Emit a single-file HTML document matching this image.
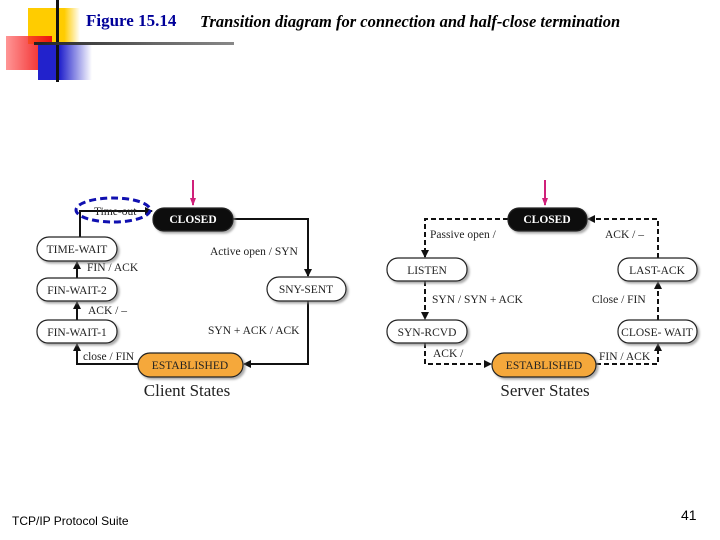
<!DOCTYPE html>
<html><head><style>
body{margin:0;width:720px;height:540px;background:#fff;position:relative;overflow:hidden;font-family:"Liberation Serif",serif}
.a{position:absolute}
</style></head><body>
<div class="a" style="left:28px;top:8px;width:52px;height:36px;background:linear-gradient(90deg,#ffcc00,#ffcc00 70%,rgba(255,220,80,0))"></div>
<div class="a" style="left:6px;top:36px;width:46px;height:34px;background:linear-gradient(90deg,rgba(255,80,80,0.6),#ee1111)"></div>
<div class="a" style="left:38px;top:44px;width:54px;height:36px;background:linear-gradient(90deg,#2222cc 40%,rgba(40,40,220,0))"></div>
<div class="a" style="left:56px;top:0;width:3px;height:82px;background:#111"></div>
<div class="a" style="left:34px;top:42px;width:200px;height:3px;background:linear-gradient(90deg,#222,#666 60%,#888)"></div>
<div class="a" style="left:86px;top:11px;font-size:17px;font-weight:bold;color:#000099">Figure 15.14</div>
<div class="a" style="left:200px;top:12px;font-size:16.5px;font-weight:bold;font-style:italic;color:#000">Transition diagram for connection and half-close termination</div>
<svg class="a" style="left:0;top:0" width="720" height="540" font-family="Liberation Serif" font-size="11.5">
<defs><marker id="m" markerUnits="userSpaceOnUse" markerWidth="8" markerHeight="8" refX="7" refY="4" orient="auto"><path d="M0,0L8,4L0,8z" fill="#111"/></marker>
<marker id="p" markerUnits="userSpaceOnUse" markerWidth="8" markerHeight="8" refX="7" refY="4" orient="auto"><path d="M0,1L8,4L0,7z" fill="#d0207a"/></marker>
<filter id="s"><feDropShadow dx="2" dy="2" stdDeviation="1" flood-color="#888" flood-opacity="0.7"/></filter></defs>
<g stroke="#d0207a" stroke-width="2"><line x1="193" y1="180" x2="193" y2="205" marker-end="url(#p)"/><line x1="545" y1="180" x2="545" y2="205" marker-end="url(#p)"/></g>
<g fill="none" stroke="#111" stroke-width="2">
<polyline points="233,219 308,219 308,276" marker-end="url(#m)"/>
<polyline points="308,301 308,364 244,364" marker-end="url(#m)"/>
<polyline points="138,364 77,364 77,344" marker-end="url(#m)"/>
<line x1="77" y1="320" x2="77" y2="302" marker-end="url(#m)"/>
<line x1="77" y1="278" x2="77" y2="262" marker-end="url(#m)"/>
<polyline points="80,237 80,211 152,211" marker-end="url(#m)"/>
</g>
<g fill="none" stroke="#111" stroke-width="2" stroke-dasharray="5,3">
<polyline points="508,219 425,219 425,257" marker-end="url(#m)"/>
<line x1="425" y1="281" x2="425" y2="319" marker-end="url(#m)"/>
<polyline points="425,343 425,364 491,364" marker-end="url(#m)"/>
<polyline points="596,364 658,364 658,344" marker-end="url(#m)"/>
<line x1="658" y1="320" x2="658" y2="282" marker-end="url(#m)"/>
<polyline points="658,258 658,219 588,219" marker-end="url(#m)"/>
</g>
<ellipse cx="113" cy="210" rx="37" ry="12" fill="none" stroke="#1010b0" stroke-width="3" stroke-dasharray="7,4"/>
<g stroke="#222" stroke-width="1.2" filter="url(#s)">
<rect x="153" y="208" width="80" height="23" rx="11" fill="#111"/>
<rect x="37" y="237" width="80" height="24" rx="12" fill="#fff"/>
<rect x="37" y="278" width="80" height="23" rx="11" fill="#fff"/>
<rect x="37" y="320" width="80" height="23" rx="11" fill="#fff"/>
<rect x="267" y="277" width="79" height="24" rx="12" fill="#fff"/>
<rect x="138" y="353" width="105" height="24" rx="12" fill="#f5a83a"/>
<rect x="508" y="208" width="79" height="23" rx="11" fill="#111"/>
<rect x="387" y="258" width="80" height="23" rx="11" fill="#fff"/>
<rect x="387" y="320" width="80" height="23" rx="11" fill="#fff"/>
<rect x="618" y="258" width="79" height="23" rx="11" fill="#fff"/>
<rect x="618" y="320" width="79" height="23" rx="11" fill="#fff"/>
<rect x="492" y="353" width="104" height="24" rx="12" fill="#f5a83a"/>
</g>
<g text-anchor="middle" fill="#222">
<text x="193" y="223" fill="#fff" font-weight="bold">CLOSED</text>
<text x="77" y="253">TIME-WAIT</text>
<text x="77" y="294">FIN-WAIT-2</text>
<text x="77" y="336">FIN-WAIT-1</text>
<text x="306" y="293">SNY-SENT</text>
<text x="190" y="369">ESTABLISHED</text>
<text x="547" y="223" fill="#fff" font-weight="bold">CLOSED</text>
<text x="427" y="274">LISTEN</text>
<text x="427" y="336">SYN-RCVD</text>
<text x="657" y="274">LAST-ACK</text>
<text x="657" y="336">CLOSE- WAIT</text>
<text x="544" y="369">ESTABLISHED</text>
<text x="187" y="396" font-size="17">Client States</text>
<text x="545" y="396" font-size="17">Server States</text>
</g>
<g fill="#222">
<text x="94" y="215">Time-out</text>
<text x="210" y="255">Active open / SYN</text>
<text x="208" y="334">SYN + ACK / ACK</text>
<text x="87" y="271">FIN / ACK</text>
<text x="88" y="314">ACK / –</text>
<text x="83" y="360">close / FIN</text>
<text x="430" y="238">Passive open /</text>
<text x="605" y="238">ACK / –</text>
<text x="432" y="303">SYN / SYN + ACK</text>
<text x="592" y="303">Close / FIN</text>
<text x="433" y="357">ACK /</text>
<text x="599" y="360">FIN / ACK</text>
</g>
</svg>
<div class="a" style="left:12px;top:514px;font-family:'Liberation Sans',sans-serif;font-size:12px">TCP/IP Protocol Suite</div>
<div class="a" style="left:681px;top:507px;font-family:'Liberation Sans',sans-serif;font-size:14px">41</div>
</body></html>
